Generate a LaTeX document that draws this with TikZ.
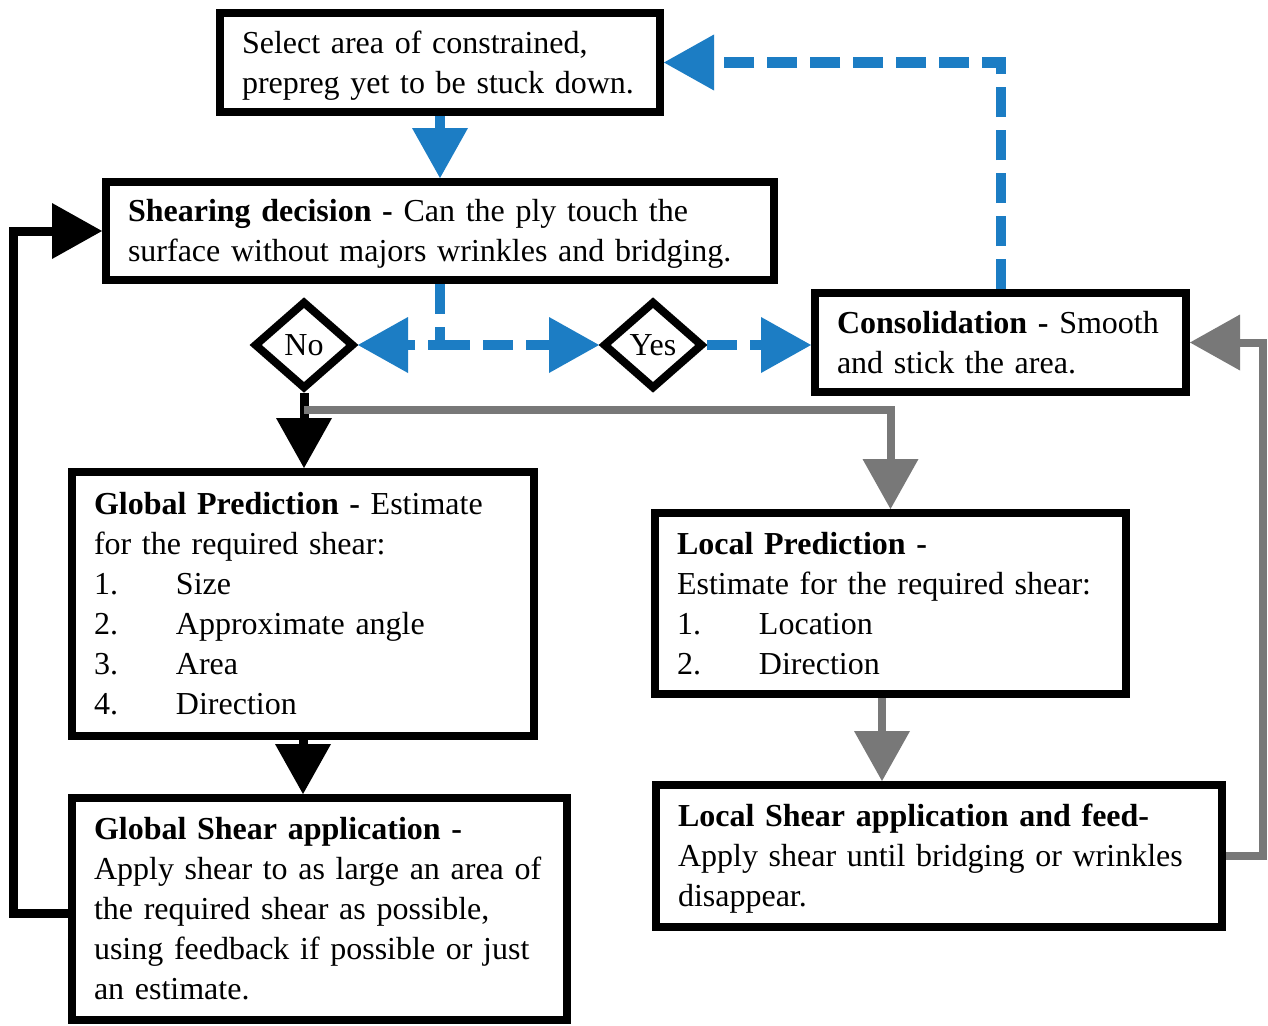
\documentclass[tikz,border=0pt]{standalone}
\usepackage{fontspec}
\setmainfont{Liberation Serif}
\usetikzlibrary{arrows.meta,shapes.geometric}
\definecolor{flowblue}{RGB}{28,125,196}
\definecolor{flowgray}{RGB}{120,120,120}
\newcommand\txtlines[1]{\rule{0pt}{30pt}#1\rule[-9pt]{0pt}{9pt}}
\newcommand\itm[2]{\mbox{\makebox[82pt][l]{#1}#2}}
\begin{document}
\begin{tikzpicture}[x=1pt,y=-1pt,
  fbox/.style={draw=black, line width=8pt, fill=white, inner xsep=22pt, inner ysep=0pt, align=left, font=\fontsize{32}{40}\selectfont},
  dmd/.style={diamond, draw=black, line width=8pt, fill=white, inner sep=0pt, minimum width=100pt, minimum height=88pt, font=\fontsize{32}{40}\selectfont},
  bigtip/.style={-{Triangle[length=50pt,width=56pt,line width=0pt]}},
  blk/.style={draw=black, line width=9pt, bigtip},
  gry/.style={draw=flowgray, line width=8pt, bigtip},
  blu/.style={draw=flowblue, line width=10pt, bigtip},
  bludash/.style={blu, dash pattern=on 30pt off 13pt},
]
\fill[white] (0,0) rectangle (1268,1025);
\useasboundingbox (0,0) rectangle (1268,1025);

\node[fbox, text width=396pt, minimum height=99pt] (top) at (440,62.5)
  {\txtlines{\mbox{Select area of constrained,}\\\mbox{prepreg yet to be stuck down.}}};
\node[fbox, text width=624pt, minimum height=98pt] (shear) at (440,231)
  {\txtlines{\mbox{\textbf{Shearing decision -} Can the ply touch the}\\\mbox{surface without majors wrinkles and bridging.}}};
\node[fbox, text width=327pt, minimum height=99pt] (cons) at (1000.5,342.5)
  {\txtlines{\mbox{\textbf{Consolidation -} Smooth}\\\mbox{and stick the area.}}};
\node[fbox, text width=418pt, minimum height=264pt] (gp) at (303,604)
  {\txtlines{\mbox{\textbf{Global Prediction -} Estimate}\\\mbox{for the required shear:}\\\itm{1.}{Size}\\\itm{2.}{Approximate angle}\\\itm{3.}{Area}\\\itm{4.}{Direction}}};
\node[fbox, text width=451pt, minimum height=222pt] (gs) at (319.5,909)
  {\txtlines{\mbox{\textbf{Global Shear application -}}\\\mbox{Apply shear to as large an area of}\\\mbox{the required shear as possible,}\\\mbox{using feedback if possible or just}\\\mbox{an estimate.}}};
\node[fbox, text width=427pt, minimum height=181pt] (lp) at (890.5,603.5)
  {\txtlines{\mbox{\textbf{Local Prediction -}}\\\mbox{Estimate for the required shear:}\\\itm{1.}{Location}\\\itm{2.}{Direction}}};
\node[fbox, text width=522pt, minimum height=142pt] (ls) at (939,856)
  {\txtlines{\mbox{\textbf{Local Shear application and feed-}}\\\mbox{Apply shear until bridging or wrinkles}\\\mbox{disappear.}}};

\node[dmd] (no) at (304,345) {No};
\node[dmd] (yes) at (653,345) {Yes};

\coordinate (jn) at (440,345);
\coordinate (gsplit) at (304,410);
\coordinate (c882) at (882,0);
\coordinate (rr) at (1263,0);
\coordinate (ll) at (13,913);

% blue
\draw[blu] (top.south) -- (shear.north);
\draw[bludash] (shear.south) -- (jn) -- (no.east);
\draw[bludash] (jn) -- (yes.west);
\draw[bludash] (yes.east) -- (yes.east -| cons.west);
\draw[bludash] (cons.north) -- (cons.north |- top.east) -- (top.east);

% black
\draw[blk] (no.south) -- (no.south |- gp.north);
\draw[blk] (gp.south) -- (gp.south |- gs.north);
\draw[blk] (ll -| gs.west) -- (ll) -- (ll |- shear.west) -- (shear.west);

% gray
\draw[gry] (gsplit) -- (gsplit -| lp.north) -- (lp.north);
\draw[gry] (lp.south -| c882) -- (ls.north -| c882);
\draw[gry] (ls.east) -- (ls.east -| rr) -- (rr |- cons.east) -- (cons.east);
\end{tikzpicture}
\end{document}
